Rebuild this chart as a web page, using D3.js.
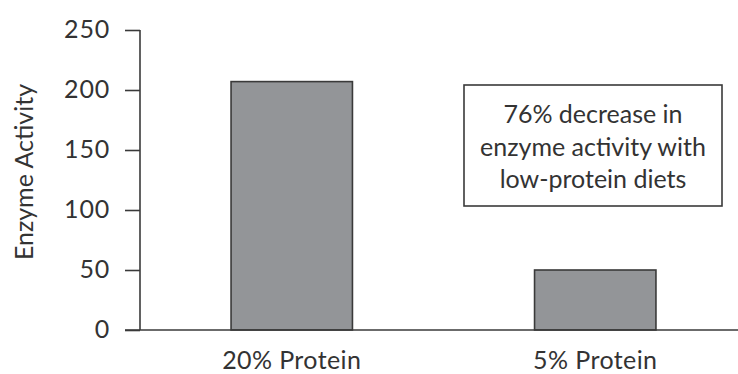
<!DOCTYPE html>
<html>
<head>
<meta charset="utf-8">
<script src="https://cdn.jsdelivr.net/npm/d3@7"></script>
<style>
  html, body { margin: 0; padding: 0; background: #fff; }
  svg { display: block; }
  text { font-family: Lato, "Open Sans", sans-serif; fill: #333; }
</style>
</head>
<body>
<svg id="chart" width="738" height="374"></svg>
<script>
// Enzyme activity by dietary protein level
const categories = ["20% Protein", "5% Protein"];
const activity = [207, 50];
const yTicks = [0, 50, 100, 150, 200, 250];
const noteLines = ["76% decrease in", "enzyme activity with", "low-protein diets"];

const svg = d3.select("#chart");
const axisColor = "#3a3a3a";

const y = d3.scaleLinear().domain([0, 250]).range([330, 30]);
const x = d3.scaleBand()
  .domain(categories)
  .range([140, 747])
  .paddingInner(0.6)
  .paddingOuter(0.3);

// Bars
svg.append("g").selectAll("rect")
  .data(categories.map((c, i) => ({ c, v: activity[i] })))
  .join("rect")
  .attr("x", d => x(d.c))
  .attr("y", d => y(d.v))
  .attr("width", x.bandwidth())
  .attr("height", d => y(0) - y(d.v))
  .attr("fill", "#939598")
  .attr("stroke", axisColor)
  .attr("stroke-width", 1.6);

// Y axis
const yAxis = svg.append("g")
  .attr("transform", "translate(140,0)")
  .call(d3.axisLeft(y).tickValues(yTicks).tickSize(15).tickPadding(15).tickSizeOuter(0));
yAxis.select(".domain").attr("stroke", axisColor).attr("stroke-width", 1.6)
  .attr("d", `M0,${y(250)}V${y(0)}`);
yAxis.selectAll(".tick line").attr("stroke", axisColor).attr("stroke-width", 1.6);
yAxis.selectAll(".tick text")
  .style("font-size", "25px")
  .style("font-family", "Lato, sans-serif")
  .style("letter-spacing", "0.8px")
  .attr("fill", "#333")
  .attr("dy", "0.3em");

// X axis baseline running to the right edge
svg.append("line")
  .attr("x1", 125).attr("x2", 738)
  .attr("y1", y(0)).attr("y2", y(0))
  .attr("stroke", axisColor).attr("stroke-width", 1.6);

const xAxis = svg.append("g")
  .attr("transform", `translate(0,${y(0)})`)
  .call(d3.axisBottom(x).tickSize(0).tickPadding(0));
xAxis.select(".domain").remove();
xAxis.selectAll(".tick text")
  .attr("y", 39)
  .attr("dy", 0)
  .style("font-size", "25px")
  .style("font-family", "Lato, sans-serif")
  .style("letter-spacing", "0.4px")
  .attr("fill", "#333");

// Y axis title
svg.append("text")
  .attr("transform", "translate(33,172) rotate(-90)")
  .attr("text-anchor", "middle")
  .style("font-size", "25px")
  .text("Enzyme Activity");

// Annotation box
const note = svg.append("g");
note.append("rect")
  .attr("x", 464).attr("y", 85)
  .attr("width", 258).attr("height", 121)
  .attr("fill", "#fff")
  .attr("stroke", axisColor)
  .attr("stroke-width", 1.6);
note.selectAll("text")
  .data(noteLines)
  .join("text")
  .attr("x", 593)
  .attr("y", (d, i) => 123 + i * 32.5)
  .attr("text-anchor", "middle")
  .style("font-size", "25px")
  .text(d => d);
</script>
</body>
</html>
